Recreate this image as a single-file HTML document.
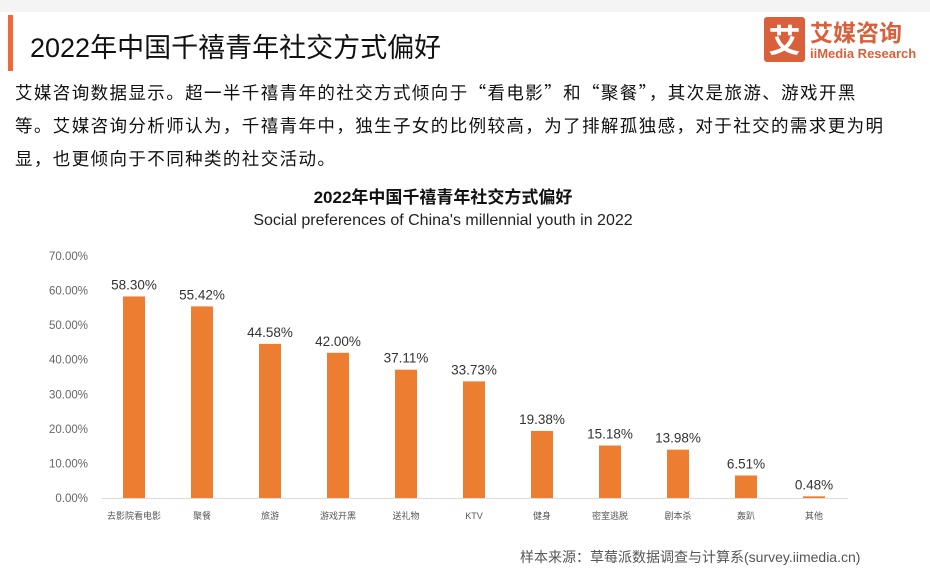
<!DOCTYPE html>
<html><head><meta charset="utf-8"><style>
body{margin:0;width:930px;height:573px;background:#fff;overflow:hidden;font-family:"Liberation Sans","Noto Sans CJK SC",sans-serif;position:relative}
.abs{position:absolute;white-space:nowrap}
</style></head><body>
<div class="abs" style="left:0;top:0;width:930px;height:12px;background:#f4f4f4"></div>
<div class="abs" style="left:8px;top:15px;width:5px;height:56px;background:#ee6a3a"></div>
<div class="abs" style="left:30px;top:26px;font-size:27px;color:#111">2022年中国千禧青年社交方式偏好</div>
<div class="abs" style="left:764px;top:17px;width:152px;height:46px">
 <div class="abs" style="left:0;top:0;width:41px;height:45px;background:#d9603b;border-radius:3px;color:#fff;font-size:32px;line-height:45px;text-align:center;font-family:'Noto Sans CJK SC',sans-serif;font-weight:bold">艾</div>
 <div class="abs" style="left:46px;top:0;font-size:23px;color:#d9603b;font-weight:bold;font-family:'Noto Sans CJK SC',sans-serif;line-height:28px">艾媒咨询</div>
 <div class="abs" style="left:46px;top:29px;font-size:13px;color:#d9603b;font-weight:bold">iiMedia Research</div>
</div>
<div class="abs" style="left:15px;top:76px;font-size:17.5px;letter-spacing:1.4px;line-height:33px;color:#111;font-family:'Noto Sans CJK SC',sans-serif">艾媒咨询数据显示。超一半千禧青年的社交方式倾向于“看电影”和“聚餐”，其次是旅游、游戏开黑<br>等。艾媒咨询分析师认为，千禧青年中，独生子女的比例较高，为了排解孤独感，对于社交的需求更为明<br>显，也更倾向于不同种类的社交活动。</div>
<div class="abs" style="left:0;width:886px;text-align:center;top:183px;font-size:17px;font-weight:bold;color:#111">2022年中国千禧青年社交方式偏好</div>
<div class="abs" style="left:0;width:886px;text-align:center;top:212px;font-size:16px;color:#222">Social preferences of China's millennial youth in 2022</div>
<svg id="chart" class="abs" style="left:0;top:0" width="930" height="573"></svg>
<div class="abs" style="left:520px;top:547px;font-size:14px;color:#555">样本来源：草莓派数据调查与计算系(survey.iimedia.cn)</div>
<script>
const categories=["去影院看电影","聚餐","旅游","游戏开黑","送礼物","KTV","健身","密室逃脱","剧本杀","轰趴","其他"];
const values=[58.30,55.42,44.58,42.00,37.11,33.73,19.38,15.18,13.98,6.51,0.48];
const ticks=[0,10,20,30,40,50,60,70];
const NS="http://www.w3.org/2000/svg";
const svg=document.getElementById('chart');
const y=v=>498-v*(242/70);
const x=i=>134+i*68;
function mk(t,a){const e=document.createElementNS(NS,t);for(const k in a)e.setAttribute(k,a[k]);svg.appendChild(e);return e;}
ticks.forEach(t=>{const e=mk('text',{x:88,y:y(t)+4,'text-anchor':'end','font-size':11.5,fill:'#666','font-family':'Liberation Sans, sans-serif'});e.textContent=t.toFixed(2)+'%';

});
const ax=mk('line',{x1:101,x2:848,y1:498.5,y2:498.5,stroke:'#ddd','stroke-width':1});


values.forEach((v,i)=>{
 const r=mk('rect',{x:x(i)-11,y:y(v),width:22,height:498-y(v),fill:'#ed7d31'});
 
 
 const l=mk('text',{x:x(i),y:y(v)-7,'text-anchor':'middle','font-size':13.5,fill:'#333','font-family':'Liberation Sans, sans-serif'});
 l.textContent=v.toFixed(2)+'%';
 
 
 const c=mk('text',{x:x(i),y:519,'text-anchor':'middle','font-size':9,fill:'#555','font-family':'Liberation Sans, Noto Sans CJK SC, sans-serif'});
 c.textContent=categories[i];
 
 
});
</script>
</body></html>
